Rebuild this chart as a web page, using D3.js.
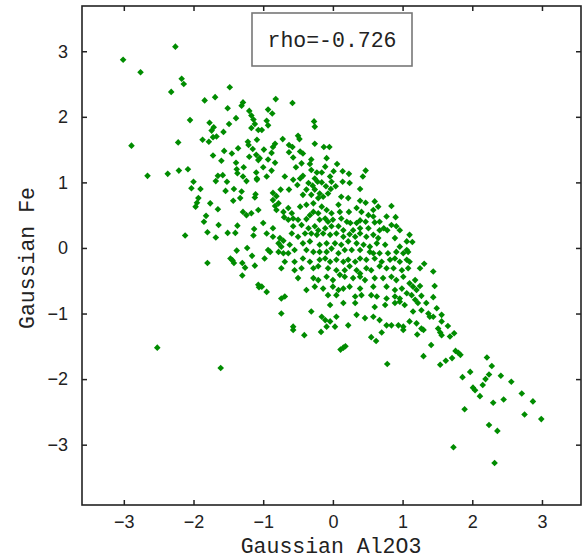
<!DOCTYPE html>
<html>
<head>
<meta charset="utf-8">
<script src="https://cdn.jsdelivr.net/npm/d3@7"></script>
<style>
  html, body { margin: 0; padding: 0; background: #fff; }
  svg { display: block; }
</style>
</head>
<body>
<svg id="chart" width="584" height="560"></svg>
<script>
// Normal-score transformed samples: [Gaussian Al2O3, Gaussian Fe]
const samples = [
  [-2.26,3.07],[-3.01,2.87],[-2.76,2.68],[-2.17,2.58],[-2.14,2.50],[-2.32,2.38],[-1.48,2.45],[-1.84,2.25],[-1.69,2.30],[-1.51,2.13],
  [-1.29,2.22],[-1.31,2.17],[-1.20,2.09],[-1.17,2.02],[-1.14,1.96],[-1.39,1.98],[-2.05,1.95],[-1.77,1.91],[-1.71,1.84],[-1.74,1.79],
  [-1.49,1.89],[-1.12,1.89],[-1.17,1.83],[-1.07,1.80],[-1.57,1.77],[-1.72,1.69],[-1.67,1.70],[-1.87,1.65],[-1.78,1.62],[-2.22,1.61],
  [-2.89,1.56],[-1.22,1.62],[-1.21,1.57],[-1.09,1.65],[-1.36,1.52],[-1.15,1.51],[-1.56,1.48],[-1.45,1.44],[-1.72,1.41],[-1.20,1.39],
  [-1.10,1.42],[-1.07,1.34],[-1.60,1.33],[-1.39,1.30],[-1.28,1.23],[-2.08,1.20],[-2.21,1.18],[-2.37,1.13],[-2.66,1.10],[-1.38,1.20],
  [-1.37,1.14],[-1.65,1.10],[-1.58,1.11],[-1.29,1.09],[-1.10,1.15],[-1.09,1.06],
  [-0.82,2.27],[-0.58,2.21],[-0.93,2.11],[-0.87,2.05],[-0.95,1.94],[-0.93,1.87],[-0.27,1.93],[-0.26,1.85],[-1.02,1.80],[-0.72,1.66],
  [-0.50,1.71],[-0.48,1.66],[-0.83,1.59],[-0.86,1.54],[-0.63,1.57],[-0.58,1.54],[-0.26,1.59],[-0.13,1.54],[-0.05,1.54],[-0.99,1.50],
  [-0.88,1.45],[-0.63,1.46],[-0.47,1.47],[-0.43,1.44],[-0.57,1.38],[-0.31,1.35],[-0.09,1.37],[-1.05,1.37],[-0.93,1.35],[-0.83,1.30],
  [-0.45,1.29],[-0.33,1.28],[0.06,1.28],[-0.11,1.24],[-1.00,1.23],[-0.88,1.18],[-0.53,1.23],[-0.31,1.19],[-0.23,1.15],[-0.16,1.15],
  [0.01,1.17],[0.14,1.17],[0.47,1.18],[0.23,1.13],[0.43,1.09],[-0.69,1.09],[-0.43,1.10],[-0.47,1.06],[-0.95,1.09],[-0.04,1.09],
  [-0.26,1.06],
  [-2.00,1.01],[-1.68,1.02],[-1.52,1.01],[-1.24,1.02],[-1.09,1.04],[-2.03,0.91],[-1.90,0.90],[-1.54,0.87],[-1.42,0.90],[-1.31,0.86],
  [-1.11,0.82],[-1.12,0.77],[-1.93,0.76],[-1.95,0.69],[-1.97,0.63],[-1.43,0.72],[-1.33,0.76],[-1.76,0.68],[-1.65,0.59],[-1.29,0.55],
  [-1.24,0.50],[-1.17,0.53],[-1.07,0.58],[-1.82,0.49],[-1.85,0.40],[-1.64,0.35],[-1.37,0.34],[-1.80,0.24],[-2.12,0.19],[-1.68,0.16],
  [-1.51,0.23],[-1.40,0.23],[-1.13,0.29],[-1.14,0.19],[-1.38,-0.04],[-1.23,0.00],[-1.16,-0.12],[-1.47,-0.16],[-1.44,-0.19],[-1.42,-0.23],
  [-1.80,-0.23],[-1.30,-0.23],[-1.26,-0.30],[-1.12,-0.27],[-1.30,-0.42],[-1.07,-0.56],[-1.06,-0.60],
  [-0.57,1.04],[-0.51,0.96],[-0.35,0.99],[-0.29,0.95],[-0.22,1.01],[-0.16,1.00],[-0.10,0.94],[-0.02,1.01],[0.04,0.94],[0.14,1.01],
  [0.24,0.99],[0.39,0.90],[-0.86,0.84],[-0.81,0.79],[-0.75,0.89],[-0.63,0.89],[-0.38,0.89],[-0.26,0.89],[-0.19,0.83],[-0.07,0.83],
  [-0.03,0.90],[-0.86,0.73],[-0.78,0.68],[-0.43,0.81],[-0.31,0.81],[-0.21,0.76],[-0.14,0.78],[0.12,0.78],[0.22,0.76],[0.39,0.72],
  [0.47,0.69],[0.60,0.71],[0.08,0.66],[-0.83,0.64],[-0.81,0.58],[-0.71,0.55],[-0.64,0.61],[-0.59,0.53],[-0.47,0.63],[-0.38,0.66],
  [-0.28,0.68],[-0.16,0.63],[-0.09,0.58],[-0.02,0.53],[-0.28,0.55],[-0.21,0.53],[0.10,0.55],[0.23,0.55],[0.34,0.61],[0.41,0.55],
  [0.58,0.58],[0.65,0.63],[0.84,0.64],[0.51,0.50],[0.58,0.48],[0.77,0.48],[0.90,0.47],[-0.70,0.47],[-0.64,0.43],[-0.57,0.45],
  [-0.50,0.43],[-0.38,0.44],[-0.33,0.50],[-0.19,0.43],[-0.11,0.45],[-0.07,0.40],[0.00,0.43],[0.12,0.45],[0.20,0.40],[0.25,0.38],
  [0.34,0.38],[0.39,0.42],[0.47,0.40],[0.60,0.39],[0.67,0.40],[0.78,0.27],[0.84,0.35],[0.91,0.33],[-1.00,0.38],[-0.86,0.30],
  [-0.57,0.33],[-0.45,0.35],[-0.35,0.30],[-0.26,0.33],[-0.21,0.27],[-0.11,0.30],[-0.02,0.33],[0.08,0.33],[0.15,0.27],[0.29,0.27],
  [0.39,0.30],[0.51,0.30],[0.67,0.27],[0.73,0.30],[0.96,0.27],[-0.95,0.22],[-0.86,0.17],[-0.76,0.15],[-0.71,0.11],[-0.59,0.22],
  [-0.50,0.17],[-0.40,0.22],[-0.31,0.22],[-0.23,0.20],[-0.14,0.22],[-0.04,0.20],[0.05,0.22],[0.15,0.17],[0.24,0.21],[0.32,0.17],
  [0.39,0.22],[0.48,0.17],[0.58,0.20],[0.65,0.15],[0.89,0.15],[1.06,0.10],[-0.93,-0.03],[-0.78,0.07],[-0.74,0.02],[-0.62,0.05],
  [-0.43,0.07],[-0.33,0.10],[-0.19,0.05],[-0.09,0.07],[0.03,0.07],[0.12,0.05],[0.22,0.10],[0.34,0.07],[0.44,0.05],[0.53,0.02],
  [0.63,0.07],[0.75,0.05],[0.96,0.02],[1.06,-0.03],[-0.98,-0.16],[-0.90,-0.06],[-0.78,-0.06],[-0.71,-0.08],[-0.64,-0.08],[-0.55,-0.03],
  [-0.38,-0.03],[-0.28,-0.06],[-0.19,-0.06],[-0.09,-0.06],[-0.02,-0.01],[0.08,-0.08],[0.17,-0.03],[0.27,-0.03],[0.39,-0.03],[0.53,-0.06],
  [0.58,-0.08],[0.67,-0.08],[0.79,-0.08],[0.91,-0.06],[1.01,-0.08],[1.08,-0.06],[-0.69,-0.21],[-0.55,-0.21],[-0.43,-0.16],[-0.33,-0.21],
  [-0.19,-0.18],[-0.11,-0.16],[-0.04,-0.21],[0.05,-0.18],[0.15,-0.21],[0.22,-0.18],[0.32,-0.21],[0.39,-0.16],[0.48,-0.18],[0.60,-0.16],
  [0.70,-0.21],[0.82,-0.18],[0.89,-0.16],[0.96,-0.21],[1.06,-0.18],[-0.74,-0.31],[-0.55,-0.34],[-0.45,-0.31],[-0.28,-0.31],[-0.21,-0.28],
  [-0.07,-0.31],[0.05,-0.34],[0.17,-0.34],[0.24,-0.28],[0.34,-0.34],[0.39,-0.39],[0.48,-0.31],[0.55,-0.34],[0.67,-0.28],[0.77,-0.31],
  [0.87,-0.31],[0.99,-0.34],[1.08,-0.31],[-0.50,-0.46],[-0.28,-0.46],[-0.21,-0.49],[-0.09,-0.44],[0.00,-0.49],[0.10,-0.41],[0.17,-0.44],
  [0.29,-0.46],[0.39,-0.44],[0.46,-0.49],[0.60,-0.46],[0.72,-0.46],[0.84,-0.44],[0.91,-0.49],[1.01,-0.44],[-1.02,-0.59],[-0.95,-0.67],
  [-0.38,-0.64],[-0.26,-0.59],[-0.14,-0.62],[0.00,-0.59],[0.08,-0.64],[0.15,-0.62],[0.24,-0.59],[0.39,-0.62],[0.58,-0.59],[0.77,-0.59],
  [0.89,-0.64],[0.99,-0.62],[1.06,-0.69],[-0.74,-0.77],[-0.69,-0.74],[-0.07,-0.72],[0.05,-0.72],[0.32,-0.74],[0.41,-0.72],[0.55,-0.72],
  [0.63,-0.74],[0.77,-0.77],[0.89,-0.74],[0.96,-0.77],[-0.04,-0.87],[0.15,-0.84],[0.32,-0.84],[0.60,-0.90],[0.75,-0.87],[0.89,-0.84],
  [0.96,-0.82],[1.03,-0.87],[-0.74,-1.00],[-0.31,-0.97],[-0.16,-1.05],[-0.11,-1.10],[-0.04,-1.12],[0.05,-1.05],[0.22,-1.18],[0.34,-1.02],
  [0.46,-1.07],[0.58,-1.05],[0.67,-1.10],[0.77,-1.18],[0.84,-1.18],[0.94,-1.18],[1.01,-1.20],[-0.57,-1.20],[-0.09,-1.20],[0.03,-1.20],
  [1.10,0.20],[1.14,0.09],[1.10,-0.21],[1.31,-0.24],[1.25,-0.31],[1.44,-0.36],[1.18,-0.49],[1.10,-0.54],[1.15,-0.59],[1.25,-0.58],
  [1.20,-0.64],[1.46,-0.58],[1.13,-0.72],[1.27,-0.73],[1.44,-0.75],[1.18,-0.79],[1.22,-0.84],[1.34,-0.84],[1.49,-0.92],[1.15,-0.97],
  [1.27,-0.95],[1.37,-1.00],[1.39,-1.05],[1.44,-1.05],[1.56,-1.02],[1.56,-1.12],[1.65,-1.19],[1.27,-1.23],[1.51,-1.23],[1.10,-1.12],
  [1.20,-1.15],
  [-2.52,-1.52],[-1.61,-1.83],
  [-0.41,-1.33],[-0.17,-1.28],[0.11,-1.55],[0.15,-1.52],[0.18,-1.50],[0.55,-1.36],[0.62,-1.42],[0.70,-1.29],[0.78,-1.77],[1.01,-1.25],
  [-0.57,-1.25],
  [1.21,-1.32],[1.30,-1.25],[1.54,-1.29],[1.56,-1.33],[1.68,-1.35],[1.74,-1.30],[1.41,-1.48],[1.30,-1.65],[1.54,-1.78],[1.62,-1.72],
  [1.71,-1.68],[1.76,-1.57],[1.80,-1.60],[1.83,-1.63],[2.21,-1.67],[2.28,-1.80],[1.97,-1.89],[1.86,-1.97],[2.24,-1.93],[2.41,-1.95],
  [2.19,-2.00],[2.15,-2.09],[2.56,-2.04],[2.01,-2.13],[2.04,-2.17],[2.11,-2.26],[2.71,-2.22],[2.45,-2.31],[2.30,-2.36],[2.87,-2.34],
  [1.89,-2.46],[2.75,-2.54],[2.99,-2.61],[2.24,-2.70],[2.36,-2.79],[1.73,-3.04],[2.32,-3.28]
];

const xTicks = [-3, -2, -1, 0, 1, 2, 3];
const yTicks = [-3, -2, -1, 0, 1, 2, 3];
const xLabel = "Gaussian Al2O3";
const yLabel = "Gaussian Fe";
const rho = -0.726;

const svg = d3.select("#chart");
const plotLeft = 82, plotRight = 581, plotTop = 6, plotBottom = 505;

const x = d3.scaleLinear().domain([-3.6, 3.56]).range([plotLeft, plotRight]);
const y = d3.scaleLinear().domain([-3.92, 3.69]).range([plotBottom, plotTop]);

const tickFont = "'Liberation Sans', Arial, sans-serif";
const monoFont = "'Liberation Mono', 'Courier New', monospace";
const green = "#008c00";

// points: small filled diamonds
const r = 3.3;
svg.append("g")
  .selectAll("path")
  .data(samples)
  .join("path")
  .attr("transform", d => `translate(${x(d[0])},${y(d[1])})`)
  .attr("d", `M0,${-r}L${r},0L0,${r}L${-r},0Z`)
  .attr("fill", green);

// axes with inward ticks on all four sides
const tl = 5;
const bottomAxis = svg.append("g").attr("transform", `translate(0,${plotBottom})`)
  .call(d3.axisBottom(x).tickValues(xTicks).tickSizeInner(-tl).tickSizeOuter(0).tickPadding(10));
const topAxis = svg.append("g").attr("transform", `translate(0,${plotTop})`)
  .call(d3.axisTop(x).tickValues(xTicks).tickSizeInner(-tl).tickSizeOuter(0).tickFormat(""));
const leftAxis = svg.append("g").attr("transform", `translate(${plotLeft},0)`)
  .call(d3.axisLeft(y).tickValues(yTicks).tickSizeInner(-tl).tickSizeOuter(0).tickPadding(14));
const rightAxis = svg.append("g").attr("transform", `translate(${plotRight},0)`)
  .call(d3.axisRight(y).tickValues(yTicks).tickSizeInner(-tl).tickSizeOuter(0).tickFormat(""));

[bottomAxis, topAxis, leftAxis, rightAxis].forEach(g => {
  g.select(".domain").remove();
  g.selectAll(".tick line").attr("stroke", "#222").attr("stroke-width", 1.5);
  g.selectAll(".tick text").attr("font-family", tickFont).attr("font-size", 18).attr("fill", "#222");
});

// frame
svg.append("rect")
  .attr("x", plotLeft).attr("y", plotTop)
  .attr("width", plotRight - plotLeft).attr("height", plotBottom - plotTop)
  .attr("fill", "none").attr("stroke", "#222").attr("stroke-width", 1.6);

// correlation box
const bx = 252, by = 13, bw = 160, bh = 53;
svg.append("rect")
  .attr("x", bx).attr("y", by).attr("width", bw).attr("height", bh)
  .attr("fill", "#fff").attr("stroke", "#777").attr("stroke-width", 1.6);
svg.append("text")
  .attr("x", bx + bw / 2).attr("y", by + 34)
  .attr("text-anchor", "middle")
  .attr("font-family", monoFont).attr("font-size", 21.5)
  .attr("fill", "#222")
  .text(`rho=${rho.toFixed(3)}`);

// axis titles
svg.append("text")
  .attr("x", 331).attr("y", 553)
  .attr("text-anchor", "middle")
  .attr("font-family", monoFont).attr("font-size", 21.5)
  .attr("fill", "#222")
  .text(xLabel);
svg.append("text")
  .attr("transform", "translate(34,258) rotate(-90)")
  .attr("text-anchor", "middle")
  .attr("font-family", monoFont).attr("font-size", 21.5)
  .attr("fill", "#222")
  .text(yLabel);
</script>
</body>
</html>
